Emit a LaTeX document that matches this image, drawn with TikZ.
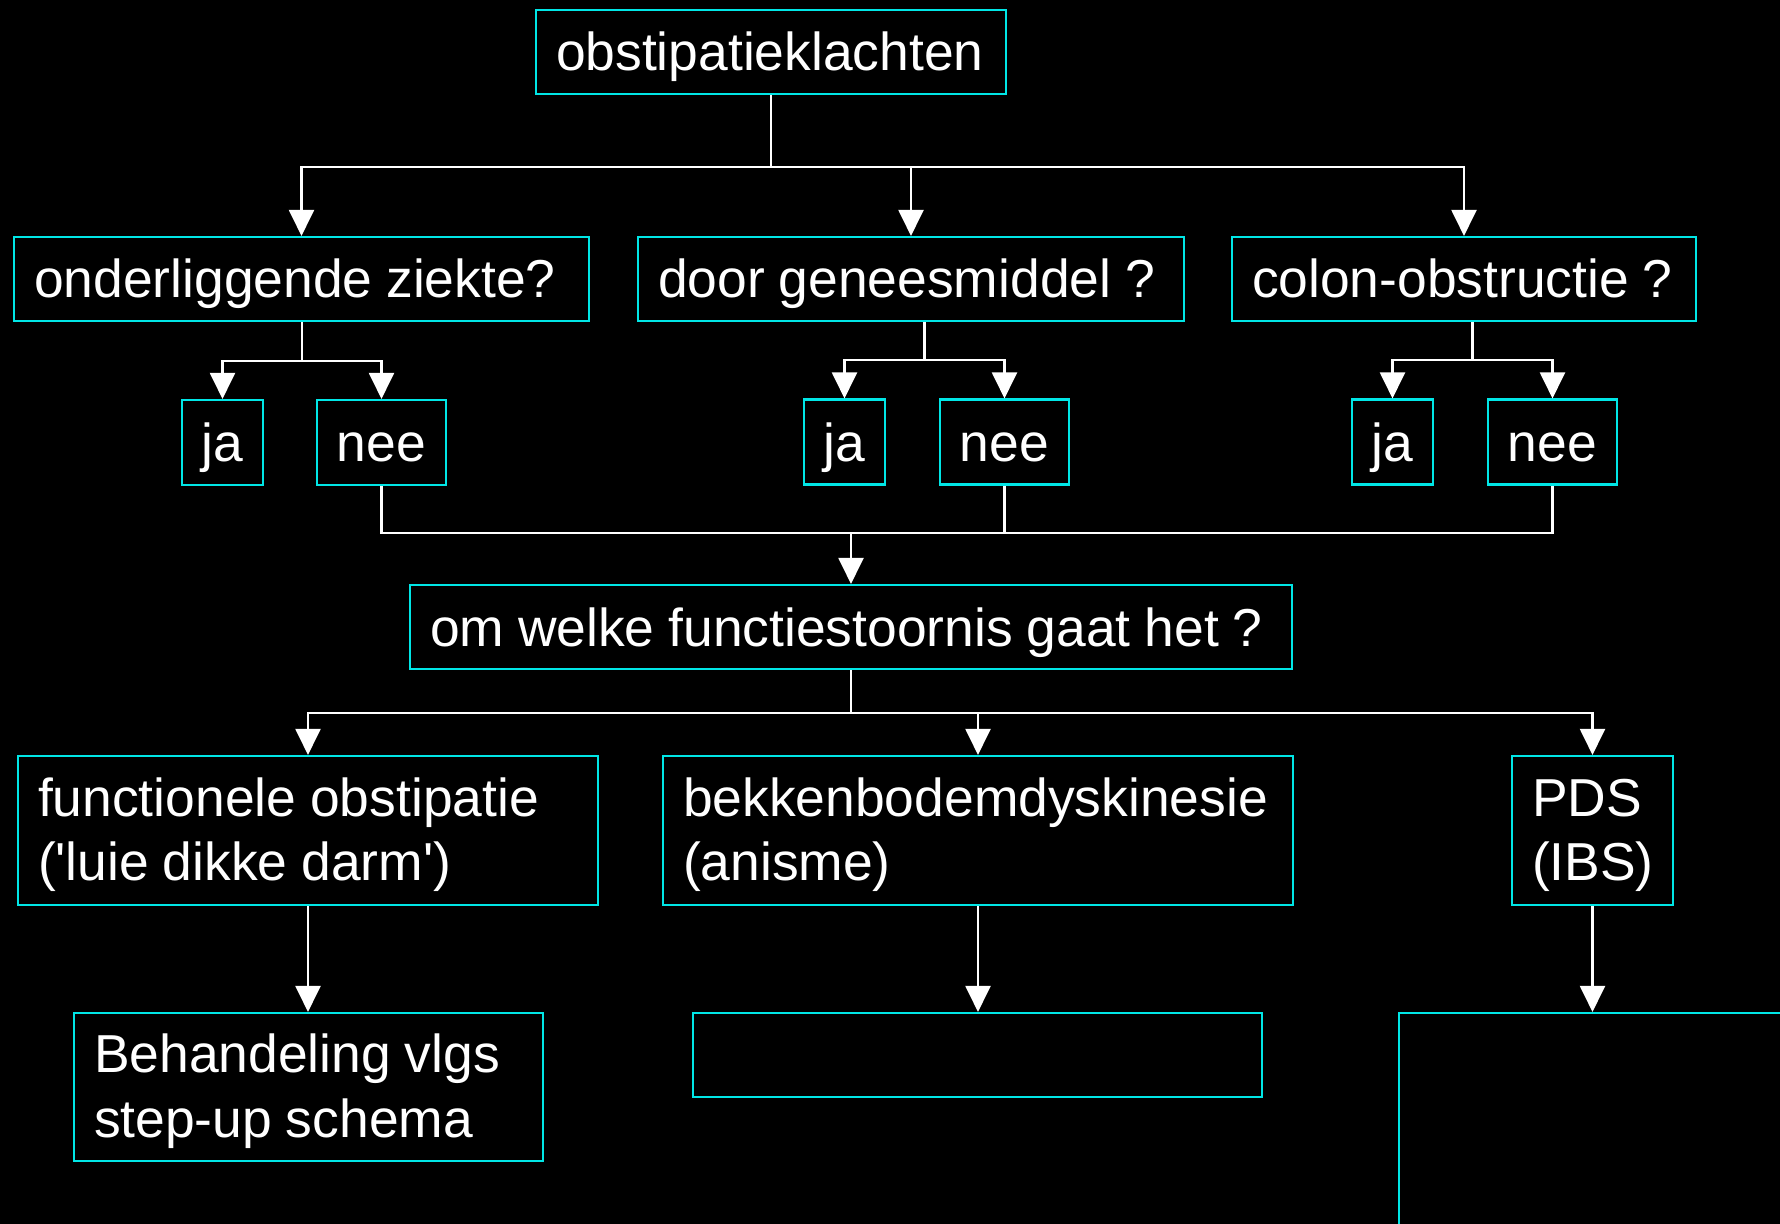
\documentclass[tikz,border=0pt]{standalone}
\usepackage{fontspec}
\setmainfont{Liberation Sans}
\usepackage{xcolor}
\usepackage{tikz}
\usetikzlibrary{arrows.meta,calc}

\definecolor{boxcyan}{RGB}{0,230,230}

\begin{document}
\begin{tikzpicture}[
    font={\fontsize{15.2}{18.35}\selectfont\hyphenpenalty=10000\exhyphenpenalty=10000},
    tight/.style={execute at begin node={\spaceskip=0.26em plus 0.05em minus 0.02em\relax}},
    box/.style={draw=boxcyan, line width=0.6pt, text=white, inner xsep=0.2cm, inner ysep=0pt,
        align=left, minimum height=0.84cm, text height=0.38cm, text depth=0pt,
        execute at begin node={\hbox\bgroup\spaceskip=0.26em\relax}, execute at end node={\egroup}},
    twobox/.style={draw=boxcyan, line width=0.6pt, text=white, inner xsep=0.2cm, inner ysep=0pt,
        align=left, minimum height=1.49cm, text height=0.36cm, text depth=0.645cm, tight},
    yn/.style={draw=boxcyan, line width=0.6pt, text=white, inner sep=0pt,
        minimum height=0.85cm, text height=0.38cm, text depth=0pt},
    line/.style={draw=white, line width=0.6pt},
    arr/.style={line, -{Triangle[length=2.6mm,width=2.5mm]}}
  ]
    \useasboundingbox (0,0) rectangle (17.8,-12.24);
    \clip (0,0) rectangle (17.8,-12.24);
    \fill[black] (0,0) rectangle (17.8,-12.24);

    \node[box, text width=4.30cm] (top) at (7.71,-0.52) {obstipatieklachten};

    \node[box, text width=5.35cm] (q1) at (3.015,-2.79) {onderliggende ziekte?};
    \node[box, text width=5.06cm] (q2) at (9.11,-2.79) {door geneesmiddel ?};
    \node[box, text width=4.24cm] (q3) at (14.64,-2.79) {colon-obstructie ?};

    \node[yn, minimum width=0.81cm] (ja1) at (2.225,-4.425) {ja};
    \node[yn, minimum width=1.29cm] (nee1) at (3.815,-4.425) {nee};
    \node[yn, minimum width=0.81cm] (ja2) at (8.445,-4.42) {ja};
    \node[yn, minimum width=1.29cm] (nee2) at (10.045,-4.42) {nee};
    \node[yn, minimum width=0.81cm] (ja3) at (13.925,-4.42) {ja};
    \node[yn, minimum width=1.29cm] (nee3) at (15.525,-4.42) {nee};

    \node[box, text width=8.42cm] (om) at (8.51,-6.27) {om welke functiestoornis gaat het ?};

    \node[twobox, text width=5.40cm] (func) at (3.08,-8.305)
        {functionele obstipatie\\(\textquotesingle luie dikke darm\textquotesingle)};
    \node[twobox, text width=5.90cm] (bek) at (9.78,-8.305)
        {bekkenbodemdyskinesie\\(anisme)};
    \node[twobox, text width=1.21cm] (pds) at (15.925,-8.305)
        {PDS\\(IBS)};

    \node[twobox, text width=4.29cm, minimum height=1.48cm] (beh) at (3.085,-10.87)
        {Behandeling vlgs\\step-up schema};
    \node[box, text width=5.29cm] (leeg) at (9.775,-10.55) {};
    \node[box, text width=3.47cm, minimum height=2.5cm] (rest) at (15.925,-11.38) {};

    % eerste splitsing
    \coordinate (t0) at ($(top.south)+(0,-0.72)$);
    \draw[line] (top.south) -- (t0);
    \foreach \q in {q1,q2,q3}
        \draw[arr] (t0) -| (\q.north);

    % ja / nee
    \foreach \q/\j/\n in {q1/ja1/nee1, q2/ja2/nee2, q3/ja3/nee3} {
        \coordinate (b) at ($(\j.north)!.5!(\n.north)+(0,0.38)$);
        \draw[line] (b |- \q.south) -- (b);
        \draw[arr] (b) -| (\j.north);
        \draw[arr] (b) -| (\n.north);
    }

    % samenkomen bij functiestoornis
    \coordinate (m0) at ($(om.north)+(0,0.51)$);
    \draw[line] (nee1.south) |- (nee3.south |- m0) -- (nee3.south);
    \draw[line] (nee2.south) -- (nee2.south |- m0);
    \draw[arr] (m0) -- (om.north);

    % soorten
    \coordinate (o0) at ($(om.south)+(0,-0.43)$);
    \draw[line] (om.south) -- (o0);
    \foreach \f in {func,bek,pds}
        \draw[arr] (o0) -| (\f.north);

    \draw[arr] (func.south) -- (func.south |- beh.north);
    \draw[arr] (bek.south) -- (bek.south |- leeg.north);
    \draw[arr] (pds.south) -- (pds.south |- rest.north);
\end{tikzpicture}
\end{document}
